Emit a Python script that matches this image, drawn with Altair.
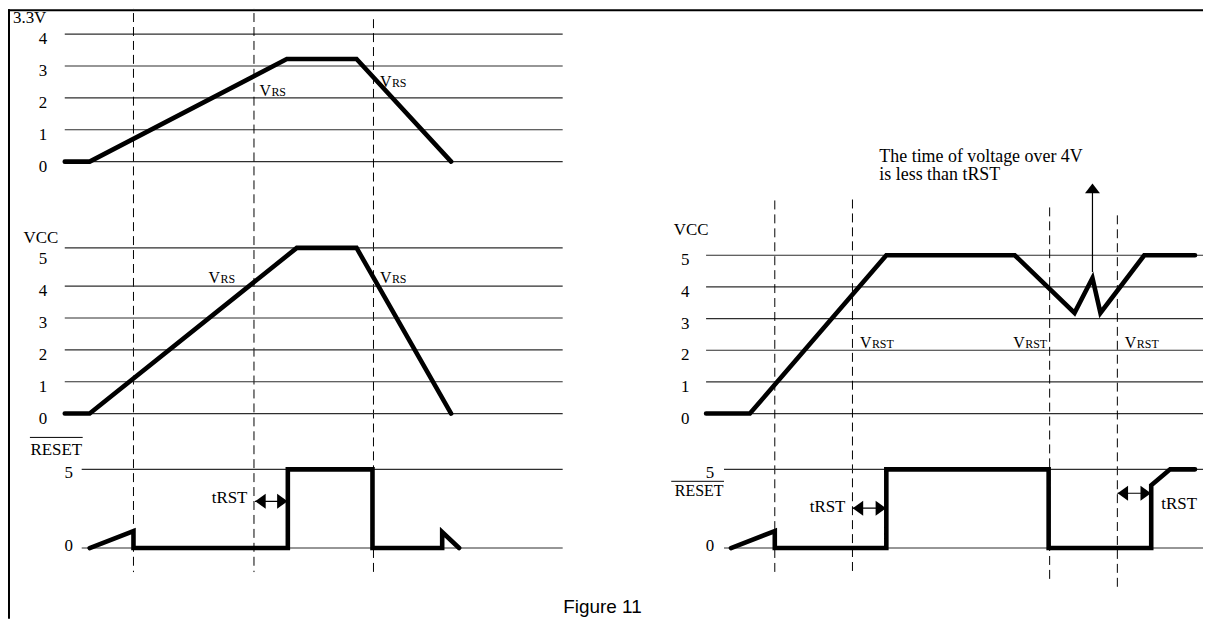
import altair as alt
import pandas as pd

# ---------------- values ----------------
# time: arbitrary units (10 px per unit in both diagrams); voltage in volts
# left diagram
L33_T = [0, 2.5, 22.3, 29.3, 38.8]
L33_V = [0, 0, 3.22, 3.22, 0]
LVCC_T = [0, 2.5, 23.3, 29.3, 38.8]
LVCC_V = [0, 0, 5.2, 5.2, 0]
LRST_T = [2.5, 6.9, 6.9, 22.4, 22.4, 30.9, 30.9, 37.9, 37.9, 39.6]
LRST_V = [0, 1.08, 0, 0, 5, 5, 0, 0, 1.01, 0]
# right diagram
RVCC_T = [0, 4.4, 18.1, 31.0, 37.0, 38.8, 39.6, 44.0, 49.1]
RVCC_V = [0, 0, 5, 5, 3.18, 4.28, 3.18, 5, 5]
RRST_T = [2.5, 6.9, 6.9, 18.1, 18.1, 34.4, 34.4, 44.7, 44.7, 46.6, 49.1]
RRST_V = [0, 1.08, 0, 0, 5, 5, 0, 0, 3.99, 5, 5]

# grid lines (volts) and tick labels
L33_GRID = [0, 1, 2, 3, 4]
LVCC_GRID = [0, 1, 2, 3, 4, 5.2]
RVCC_GRID = [0, 1, 2, 3, 4, 5]
RST_GRID = [0, 5]
L33_TICKS = [0, 1, 2, 3, 4]
VCC_TICKS = [0, 1, 2, 3, 4, 5]

# dashed time markers (time, top and bottom extent in the panel's volts)
L_DASH_T = [6.9, 19.0, 31.0]
L_DASH_TOP = [5.1, 5.1, 4.47]
L_DASH_BOT = [-12.88, -12.88, -13.03]
R_DASH_T = [6.9, 14.7, 34.5, 41.3]
R_DASH_TOP = [6.73, 6.76, 6.51, 6.26]
R_DASH_BOT = [-5.0, -5.0, -5.28, -5.47]

SERIF = "Liberation Serif"
SANS = "Liberation Sans"
GRID_C = "#2e2e2e"

W, H = 1200, 612
KX = 10.0  # px per time unit


class Panel:
    def __init__(self, x0, y0, ky):
        tmin = -(x0 - 8) / KX
        vmax = (y0 - 8) / ky
        self.xs = alt.Scale(domain=[tmin, tmin + W / KX], nice=False, zero=False)
        self.ys = alt.Scale(domain=[vmax - H / ky, vmax], nice=False, zero=False)

    def x(self, f):
        return alt.X(f"{f}:Q", scale=self.xs, axis=None)

    def y(self, f):
        return alt.Y(f"{f}:Q", scale=self.ys, axis=None)

    def grid(self, values, t0, t1):
        df = pd.DataFrame({"v": values, "t0": t0, "t1": t1})
        return alt.Chart(df).mark_rule(color=GRID_C, strokeWidth=1.1).encode(
            x=self.x("t0"), x2="t1", y=self.y("v"))

    def signal(self, t, v):
        df = pd.DataFrame({"t": t, "v": v, "i": list(range(len(t)))})
        return alt.Chart(df).mark_line(
            color="black", strokeWidth=4.6, strokeJoin="miter", strokeCap="round"
        ).encode(x=self.x("t"), y=self.y("v"), order=alt.Order("i:Q"))

    def text(self, rows, **style):
        df = pd.DataFrame(rows, columns=["t", "v", "s"])
        st = dict(font=SERIF, fontSize=17, color="black")
        st.update(style)
        return alt.Chart(df).mark_text(**st).encode(
            x=self.x("t"), y=self.y("v"), text="s:N")

    def ticks(self, t, values, dy, labels=None):
        labels = labels or [str(int(v)) for v in values]
        rows = [(t, v, s) for v, s in zip(values, labels)]
        return self.text(rows, dy=dy, fontSize=17)

    def hseg(self, t0, t1, v, width=1):
        df = pd.DataFrame({"t0": [t0], "t1": [t1], "v": [v]})
        return alt.Chart(df).mark_rule(color="black", strokeWidth=width).encode(
            x=self.x("t0"), x2="t1", y=self.y("v"))

    def vseg(self, t, v0, v1, width=1.2):
        df = pd.DataFrame({"t": [t], "v0": [v0], "v1": [v1]})
        return alt.Chart(df).mark_rule(color="black", strokeWidth=width).encode(
            x=self.x("t"), y=self.y("v0"), y2="v1")

    def head(self, t, v, shape, size):
        df = pd.DataFrame({"t": [t], "v": [v]})
        return alt.Chart(df).mark_point(
            shape=shape, size=size, filled=True, color="black", opacity=1, strokeWidth=0
        ).encode(x=self.x("t"), y=self.y("v"))

    def harrow(self, t0, t1, v):
        return [self.hseg(t0, t1, v, 1.2),
                self.head(t0 + 0.55, v, LEFT, 225),
                self.head(t1 - 0.55, v, RIGHT, 225)]

    def dashes(self, t, top, bot):
        df = pd.DataFrame({"t": t, "top": top, "bot": bot})
        return alt.Chart(df).mark_rule(color="black", strokeWidth=1, strokeDash=[9, 5]).encode(
            x=self.x("t"), y=self.y("top"), y2="bot")

    def vsub(self, t, v, sub):
        return [self.text([(t, v, "V")], fontSize=16, align="right", baseline="alphabetic", dx=0),
                self.text([(t, v, sub)], fontSize=12, align="left", baseline="alphabetic", dx=0.5)]


LEFT = "M-0.7,0L0.7,-1L0.7,1Z"
RIGHT = "M0.7,0L-0.7,-1L-0.7,1Z"
UP = "M0,-0.65L1,0.65L-1,0.65Z"

# ---------------- left diagram ----------------
lt = Panel(65, 161, 32)
LT = alt.layer(
    lt.grid(L33_GRID, 0, 50),
    lt.dashes(L_DASH_T, L_DASH_TOP, L_DASH_BOT),
    lt.signal(L33_T, L33_V),
    lt.ticks(-2.2, L33_TICKS, 5),
    lt.text([(-5.2, 4.5, "3.3V")], align="left"),
    *lt.vsub(20.7, 2.06, "RS"),
    *lt.vsub(32.8, 2.34, "RS"),
)

lm = Panel(65, 414, 32)
LM = alt.layer(
    lm.grid(LVCC_GRID, 0, 50),
    lm.signal(LVCC_T, LVCC_V),
    lm.ticks(-2.2, VCC_TICKS, 5),
    lm.text([(-2.4, 5.5, "VCC")]),
    *lm.vsub(15.6, 4.09, "RS"),
    *lm.vsub(32.8, 4.09, "RS"),
)

lb = Panel(65, 549, 15.8)
LB = alt.layer(
    lb.grid(RST_GRID, 1.7, 50),
    lb.signal(LRST_T, LRST_V),
    lb.ticks(0.4, [5], 4),
    lb.ticks(0.4, [0], -2),
    lb.text([(-0.85, 6.2, "RESET")]),
    lb.hseg(-3.5, 1.8, 7.03),
    lb.text([(16.55, 3.16, "tRST")]),
    *lb.harrow(19.1, 22.4, 2.97),
    lb.text([(54.0, -3.73, "Figure 11")], font=SANS, fontSize=19),
)

# ---------------- right diagram ----------------
rm = Panel(709, 414, 31.8)
RM = alt.layer(
    rm.grid(RVCC_GRID, 0, 50),
    rm.dashes(R_DASH_T, R_DASH_TOP, R_DASH_BOT),
    rm.signal(RVCC_T, RVCC_V),
    rm.ticks(-2.1, VCC_TICKS, 5),
    rm.text([(-1.5, 5.79, "VCC")]),
    *rm.vsub(16.6, 2.08, "RST"),
    *rm.vsub(32.0, 2.08, "RST"),
    *rm.vsub(43.2, 2.08, "RST"),
    rm.text([(17.4, 8.11, "The time of voltage over 4V"),
             (17.4, 7.52, "is less than tRST")], align="left", fontSize=18),
    rm.vseg(38.8, 4.47, 7.04),
    rm.head(38.8, 7.11, UP, 225),
)

rb = Panel(709, 549, 15.8)
RB = alt.layer(
    rb.grid(RST_GRID, 1.8, 50),
    rb.signal(RRST_T, RRST_V),
    rb.ticks(0.4, [5], 4),
    rb.ticks(0.4, [0], -2),
    rb.text([(-0.7, 3.61, "RESET")], fontSize=16),
    rb.hseg(-3.5, 1.8, 4.24),
    rb.text([(12.2, 2.59, "tRST")]),
    *rb.harrow(14.7, 18.1, 2.53),
    rb.text([(47.5, 2.78, "tRST")]),
    *rb.harrow(41.3, 44.7, 3.48),
)

# ---------------- frame ----------------
one = pd.DataFrame({"a": [0]})
frame = alt.layer(
    alt.Chart(one).mark_rule(color="black", strokeWidth=2).encode(
        x=alt.value(1), y=alt.value(0), y2=alt.value(H)),
    alt.Chart(one).mark_rule(color="black", strokeWidth=2).encode(
        x=alt.value(0), x2=alt.value(W), y=alt.value(1)),
)

chart = alt.layer(LT, LM, LB, RM, RB, frame).resolve_scale(
    x="independent", y="independent"
).properties(
    width=W, height=H, padding=0, autosize=alt.AutoSizeParams(type="none")
).configure_view(stroke=None)

chart.save("out.html", embed_options={"renderer": "svg", "actions": False})
